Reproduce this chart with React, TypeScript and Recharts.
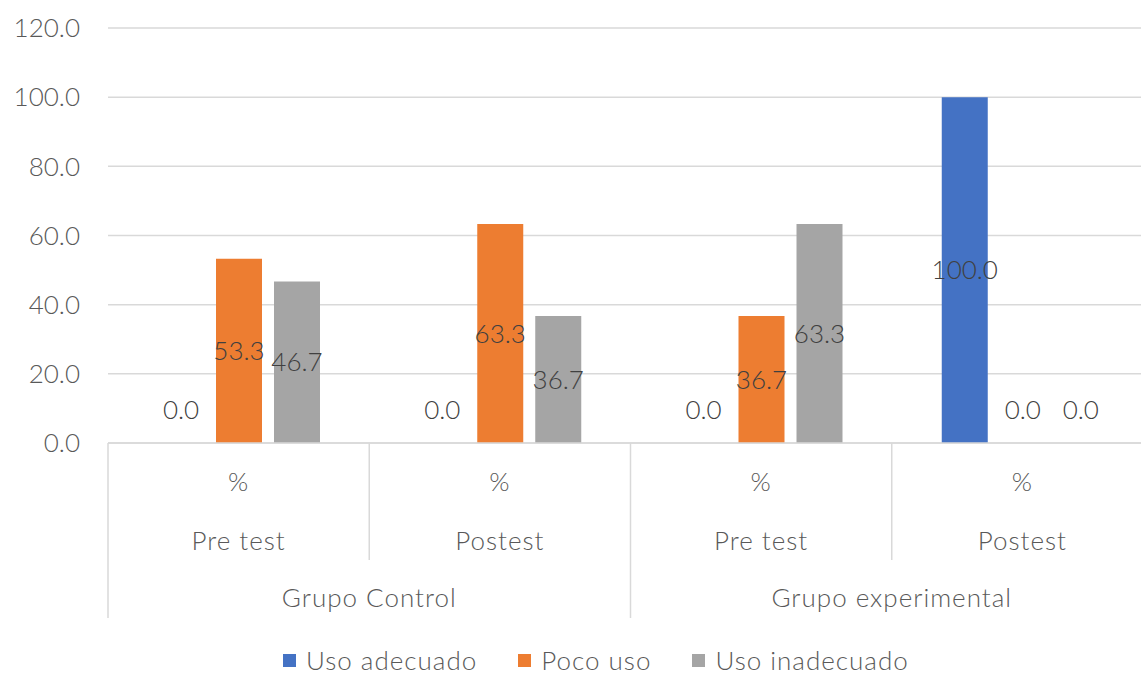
import React from "react";
import {
  BarChart,
  Bar,
  XAxis,
  YAxis,
  CartesianGrid,
  Legend,
  LabelList,
  Cell,
} from "recharts";

const units = ["%", "%", "%", "%"];
const tests = ["Pre test", "Postest", "Pre test", "Postest"];
const groups = ["Grupo Control", "Grupo Control", "Grupo experimental", "Grupo experimental"];

const usoAdecuado = [0.0, 0.0, 0.0, 100.0];
const pocoUso = [53.3, 63.3, 36.7, 0.0];
const usoInadecuado = [46.7, 36.7, 63.3, 0.0];

const yTicks = [0, 20, 40, 60, 80, 100, 120];

const seriesNames = ["Uso adecuado", "Poco uso", "Uso inadecuado"];
const seriesKeys = ["adecuado", "poco", "inadecuado"];
const seriesValues = [usoAdecuado, pocoUso, usoInadecuado];
const seriesColors = ["#4472C4", "#ED7D31", "#A5A5A5"];

const data = units.map((u, i) => ({
  key: i,
  adecuado: usoAdecuado[i],
  poco: pocoUso[i],
  inadecuado: usoInadecuado[i],
}));

const CHART_W = 1160;
const CHART_H = 675;
const MARGIN = { top: 28, right: 7, left: 0, bottom: 0 };
const YAXIS_W = 108;
const LEGEND_H = 34;
const XAXIS_H = 198;
const PLOT_W = CHART_W - MARGIN.left - MARGIN.right - YAXIS_W;
const BAND = PLOT_W / units.length;

const FONT = "Lato, 'Open Sans', sans-serif";
const FS = 26;
const TEXT = "#595959";
const LABEL = "#404040";
const LINE = "#D9D9D9";

const XTick = (props: any) => {
  const { x, y, index } = props;
  const i = typeof index === "number" ? index : props.payload?.index ?? 0;
  const left = x - BAND / 2;
  const groupStart = i === 0 || groups[i] !== groups[i - 1];
  let span = 0;
  if (groupStart) {
    let j = i;
    while (j < groups.length && groups[j] === groups[i]) {
      span++;
      j++;
    }
  }
  const tp = {
    textAnchor: "middle" as const,
    fill: TEXT,
    fontSize: FS,
    fontFamily: FONT,
    fontWeight: 300,
    letterSpacing: 1,
    dy: "0.35em",
  };
  return (
    <g>
      <line x1={left} x2={left} y1={y} y2={y + (groupStart ? 175 : 117)} stroke={LINE} strokeWidth={1.5} />
      {i === units.length - 1 && (
        <line x1={x + BAND / 2} x2={x + BAND / 2} y1={y} y2={y + 175} stroke={LINE} strokeWidth={1.5} />
      )}
      <text x={x} y={y + 39} {...tp}>
        {units[i]}
      </text>
      <text x={x} y={y + 98} {...tp}>
        {tests[i]}
      </text>
      {groupStart && (
        <text x={left + (span * BAND) / 2} y={y + 155} {...tp}>
          {groups[i]}
        </text>
      )}
    </g>
  );
};

const renderValueLabel = (props: any) => {
  const { x, y, width, height, value } = props;
  const v = Number(value);
  const top = Math.min(y, y + height);
  const cy = v === 0 ? top - 32 : top + Math.abs(height) / 2;
  return (
    <text
      x={x + width / 2}
      y={cy}
      dy="0.35em"
      textAnchor="middle"
      fill={LABEL}
      fontSize={FS}
      fontFamily={FONT}
      fontWeight={300}
    >
      {v.toFixed(1)}
    </text>
  );
};

const LegendContent = () => (
  <div
    style={{
      display: "flex",
      alignItems: "center",
      boxSizing: "border-box",
      paddingLeft: 283,
      paddingTop: 4,
      fontFamily: FONT,
      fontSize: FS,
      fontWeight: 300,
      letterSpacing: 1,
      color: TEXT,
      height: LEGEND_H,
      lineHeight: "26px",
    }}
  >
    {seriesNames.map((n, i) => (
      <div key={n} style={{ display: "flex", alignItems: "center", marginRight: 41, height: 26 }}>
        <span
          style={{
            display: "inline-block",
            width: 13,
            height: 13,
            background: seriesColors[i],
            marginRight: 10,
          }}
        />
        <span>{n}</span>
      </div>
    ))}
  </div>
);

export default function App() {
  return (
    <div
      style={{
        position: "fixed",
        top: 0,
        left: 0,
        width: 1141,
        height: 675,
        overflow: "hidden",
        background: "#fff",
      }}
    >
      <BarChart width={CHART_W} height={CHART_H} data={data} margin={MARGIN} barGap={12} barSize={46}>
        <CartesianGrid vertical={false} stroke={LINE} strokeWidth={1.5} />
        <XAxis
          dataKey="key"
          type="category"
          height={XAXIS_H}
          axisLine={{ stroke: LINE, strokeWidth: 1.5 }}
          tickLine={false}
          tickSize={0}
          tickMargin={0}
          interval={0}
          tick={<XTick />}
        />
        <YAxis
          width={YAXIS_W}
          domain={[0, 120]}
          ticks={yTicks}
          interval={0}
          axisLine={false}
          tickLine={false}
          tickSize={0}
          tickMargin={28}
          tickFormatter={(v: number) => v.toFixed(1)}
          tick={{ fill: TEXT, fontSize: FS, fontFamily: FONT, fontWeight: 300 }}
        />
        <Legend
          content={<LegendContent />}
          verticalAlign="bottom"
          wrapperStyle={{ left: 0, bottom: 0, width: 1141, height: LEGEND_H }}
        />
        {seriesKeys.map((k, s) => (
          <Bar
            key={k}
            dataKey={k}
            name={seriesNames[s]}
            fill={seriesColors[s]}
            isAnimationActive={false}
            minPointSize={(v: number) => (v === 0 ? 1 : 0)}
          >
            {seriesValues[s].map((v, i) => (
              <Cell key={i} fill={seriesColors[s]} fillOpacity={v === 0 ? 0 : 1} />
            ))}
            <LabelList dataKey={k} content={renderValueLabel} />
          </Bar>
        ))}
      </BarChart>
    </div>
  );
}
